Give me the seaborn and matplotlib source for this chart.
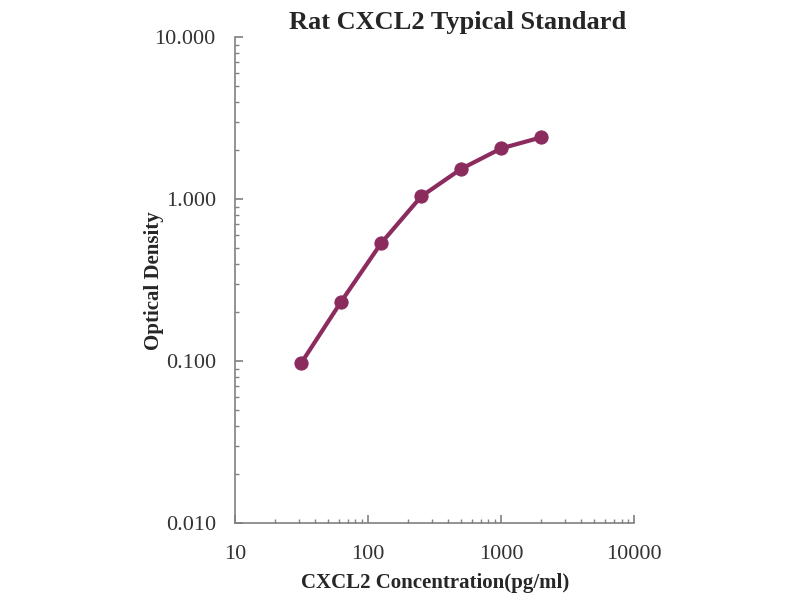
import pandas as pd
import matplotlib
matplotlib.use("Agg")
import matplotlib.pyplot as plt
import matplotlib.ticker as mticker
import seaborn as sns

# Standard curve data
concentration = [31.25, 62.5, 125, 250, 500, 1000, 2000]
optical_density = [0.097, 0.233, 0.535, 1.04, 1.54, 2.06, 2.41]

df = pd.DataFrame({"conc": concentration, "od": optical_density})

sns.set_style("white")
plt.rcParams["font.family"] = ["Liberation Serif", "DejaVu Serif"]

fig = plt.figure(figsize=(8, 6), dpi=100)
ax = fig.add_axes([0.294, 0.128, 0.499, 0.81])

color = "#8B2B5E"
sns.lineplot(data=df, x="conc", y="od", ax=ax, color=color, linewidth=3,
             marker="o", markersize=9.5, markeredgecolor=color,
             markerfacecolor=color)

ax.set_xscale("log")
ax.set_yscale("log")
ax.set_xlim(10, 10000)
ax.set_ylim(0.01, 10)

ax.xaxis.set_major_locator(mticker.FixedLocator([10, 100, 1000, 10000]))
ax.xaxis.set_major_formatter(mticker.FixedFormatter(["10", "100", "1000", "10000"]))
ax.yaxis.set_major_locator(mticker.FixedLocator([0.01, 0.1, 1, 10]))
ax.yaxis.set_major_formatter(mticker.FixedFormatter(["0.010", "0.100", "1.000", "10.000"]))
ax.xaxis.set_minor_locator(mticker.LogLocator(base=10, subs=range(2, 10)))
ax.yaxis.set_minor_locator(mticker.LogLocator(base=10, subs=range(2, 10)))
ax.xaxis.set_minor_formatter(mticker.NullFormatter())
ax.yaxis.set_minor_formatter(mticker.NullFormatter())

for side in ["top", "right"]:
    ax.spines[side].set_visible(False)
for side in ["left", "bottom"]:
    ax.spines[side].set_color("#808080")
    ax.spines[side].set_linewidth(1.2)

ax.tick_params(axis="both", which="both", bottom=True, left=True,
               direction="in", color="#808080")
ax.tick_params(axis="both", which="major", length=6, width=1.2,
               labelsize=16, labelcolor="#333333")
ax.tick_params(axis="both", which="minor", length=3, width=1)
ax.tick_params(axis="x", which="major", pad=16)
ax.tick_params(axis="y", which="major", pad=14)

ax.set_xlabel("CXCL2 Concentration(pg/ml)", fontsize=15, fontweight="bold",
              labelpad=6)
ax.set_ylabel("Optical Density", fontsize=15, fontweight="bold", labelpad=-7)
ax.set_title("Rat CXCL2 Typical Standard", fontsize=19, fontweight="bold",
             pad=6, x=0.556)

fig.savefig("out.png", dpi=100)
